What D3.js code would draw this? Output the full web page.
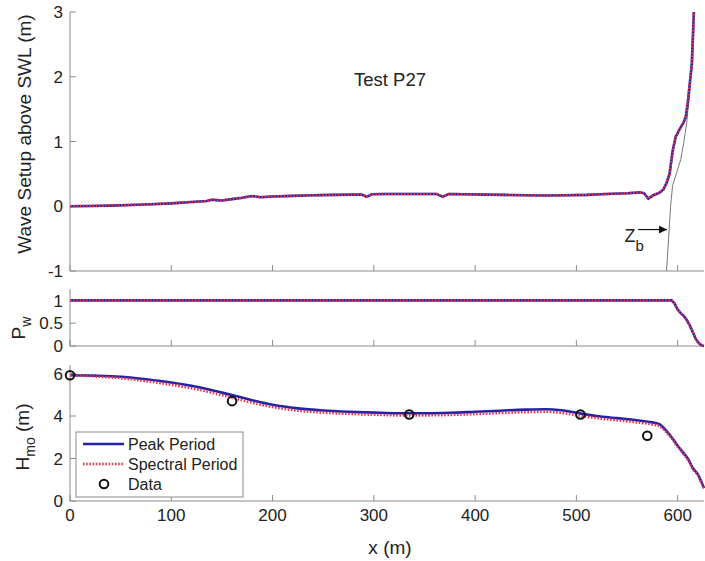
<!DOCTYPE html>
<html>
<head>
<meta charset="utf-8">
<script src="https://cdn.jsdelivr.net/npm/d3@7"></script>
<style>
  body { margin: 0; background: #fff; }
  svg { display: block; font-family: 'Liberation Sans', Arial, sans-serif; }
</style>
</head>
<body>
<svg id="chart" width="705" height="561"></svg>
<script>
// wave setup (top panel)
const setupX = [0, 20, 40, 60, 80, 100, 120, 135, 140, 145, 150, 160, 170, 178, 182, 188, 200, 220, 240, 260, 280, 288, 293, 298, 310, 330, 350, 362, 368, 374, 390, 410, 430, 450, 470, 490, 510, 530, 550, 563, 567, 571, 576, 582, 586, 589, 592, 595, 598, 602, 606, 608, 610, 612, 614, 615, 616];
const setupY = [0, 0.005, 0.01, 0.02, 0.03, 0.045, 0.065, 0.08, 0.1, 0.095, 0.09, 0.11, 0.13, 0.155, 0.155, 0.14, 0.15, 0.16, 0.17, 0.175, 0.18, 0.18, 0.145, 0.185, 0.19, 0.19, 0.19, 0.19, 0.145, 0.19, 0.185, 0.18, 0.175, 0.17, 0.165, 0.17, 0.175, 0.19, 0.2, 0.215, 0.2, 0.115, 0.17, 0.21, 0.26, 0.36, 0.5, 0.85, 1.07, 1.19, 1.3, 1.38, 1.6, 1.9, 2.2, 2.6, 3.0];
// thin profile line (Zb)
const zbX = [589, 591, 593, 595, 599, 603, 606, 609, 612, 614, 616];
const zbY = [-1, -0.5, 0, 0.32, 0.52, 0.72, 0.98, 1.3, 1.8, 2.3, 3.0];

// fraction of waves Pw
const pwX = [0, 594, 597, 600, 603, 606, 609, 612, 615, 618, 621, 624, 626];
const pwY = [1, 1, 0.93, 0.8, 0.72, 0.66, 0.57, 0.45, 0.3, 0.15, 0.06, 0.01, 0];

// Hmo
const hX = [0, 25, 50, 75, 100, 125, 150, 175, 200, 225, 250, 275, 300, 325, 350, 375, 400, 425, 450, 470, 485, 500, 520, 540, 560, 575, 582, 588, 594, 600, 605, 610, 615, 620, 623, 626];
const hPeak = [5.92, 5.9, 5.85, 5.73, 5.58, 5.38, 5.1, 4.8, 4.53, 4.36, 4.26, 4.2, 4.16, 4.13, 4.13, 4.15, 4.2, 4.25, 4.3, 4.32, 4.27, 4.15, 4.0, 3.9, 3.8, 3.7, 3.62, 3.35, 3.0, 2.6, 2.3, 2.0, 1.55, 1.25, 0.95, 0.6];
const hSpec = [5.92, 5.86, 5.78, 5.64, 5.47, 5.26, 4.98, 4.68, 4.42, 4.25, 4.16, 4.1, 4.06, 4.03, 4.03, 4.05, 4.09, 4.14, 4.18, 4.2, 4.15, 4.04, 3.9, 3.8, 3.7, 3.6, 3.52, 3.28, 2.95, 2.55, 2.25, 1.95, 1.5, 1.2, 0.9, 0.55];
const dataX = [0, 160, 335, 504, 570];
const dataH = [5.92, 4.7, 4.07, 4.07, 3.07];

const xTicks = [0, 100, 200, 300, 400, 500, 600];
const setupTicks = [-1, 0, 1, 2, 3];
const pwTicks = [0, 0.5, 1];
const hTicks = [0, 2, 4, 6];

const svg = d3.select('#chart');
const left = 70, right = 704;
const axisColor = '#8c8c8c';
const textColor = '#222';
const blue = '#2323a8';
const red = '#e8344a';

const x = d3.scaleLinear().domain([0, 626]).range([left, right]);
const ySetup = d3.scaleLinear().domain([-1, 3]).range([271, 12]);
const yPw = d3.scaleLinear().domain([0, 1.25]).range([346, 289]);
const yH = d3.scaleLinear().domain([0, 6.4]).range([501, 365]);

function drawAxes(y, yTicks, fmt, showXLabels) {
    const g = svg.append('g');
    const [y0, y1] = y.range();
    g.append('line').attr('x1', left).attr('x2', right).attr('y1', y0).attr('y2', y0)
        .attr('stroke', axisColor).attr('stroke-width', 1);
    g.append('line').attr('x1', left).attr('x2', left).attr('y1', y0).attr('y2', y1)
        .attr('stroke', axisColor).attr('stroke-width', 1);
    g.selectAll('.xt').data(xTicks).enter().append('line')
        .attr('x1', (d) => x(d)).attr('x2', (d) => x(d))
        .attr('y1', y0).attr('y2', y0 - 6)
        .attr('stroke', axisColor);
    g.selectAll('.yt').data(yTicks).enter().append('line')
        .attr('x1', left).attr('x2', left + 6)
        .attr('y1', (d) => y(d)).attr('y2', (d) => y(d))
        .attr('stroke', axisColor);
    g.selectAll('.yl').data(yTicks).enter().append('text')
        .attr('x', left - 7).attr('y', (d) => y(d))
        .attr('dy', '0.36em')
        .attr('text-anchor', 'end')
        .attr('font-size', 17)
        .attr('fill', textColor)
        .text(fmt);
    if (showXLabels) {
        g.selectAll('.xl').data(xTicks).enter().append('text')
            .attr('x', (d) => x(d)).attr('y', y0 + 20)
            .attr('text-anchor', 'middle')
            .attr('font-size', 17)
            .attr('fill', textColor)
            .text((d) => d);
    }
}

function pairLines(xs, ya, yb, y, curve) {
    const line = d3.line().x((d) => x(d[0])).y((d) => y(d[1])).curve(curve);
    const a = xs.map((v, i) => [v, ya[i]]);
    const b = xs.map((v, i) => [v, yb[i]]);
    svg.append('path').attr('d', line(a)).attr('fill', 'none')
        .attr('stroke', blue).attr('stroke-width', 2.6);
    svg.append('path').attr('d', line(b)).attr('fill', 'none')
        .attr('stroke', red).attr('stroke-width', 2.6)
        .attr('stroke-dasharray', '1.6,1.6');
}

drawAxes(ySetup, setupTicks, (d) => d, false);
drawAxes(yPw, pwTicks, (d) => d, false);
drawAxes(yH, hTicks, (d) => d, true);

// top panel
const zbLine = d3.line().x((d, i) => x(d)).y((d, i) => ySetup(zbY[i]));
svg.append('path').attr('d', zbLine(zbX)).attr('fill', 'none')
    .attr('stroke', '#777').attr('stroke-width', 1);
pairLines(setupX, setupY, setupY, ySetup, d3.curveLinear);

svg.append('text').attr('x', 390).attr('y', 86)
    .attr('text-anchor', 'middle').attr('font-size', 18.5).attr('fill', textColor)
    .text('Test P27');

// Zb annotation
svg.append('defs').append('marker')
    .attr('id', 'head').attr('viewBox', '0 0 10 10')
    .attr('refX', 10).attr('refY', 5)
    .attr('markerWidth', 8).attr('markerHeight', 8)
    .attr('markerUnits', 'userSpaceOnUse')
    .attr('orient', 'auto')
    .append('path').attr('d', 'M0,0 L10,5 L0,10 Z').attr('fill', '#111');
svg.append('line')
    .attr('x1', x(561)).attr('x2', x(589.5))
    .attr('y1', ySetup(-0.36)).attr('y2', ySetup(-0.36))
    .attr('stroke', '#111').attr('stroke-width', 1.2)
    .attr('marker-end', 'url(#head)');
const zt = svg.append('text').attr('x', x(547.5)).attr('y', ySetup(-0.55))
    .attr('font-size', 18).attr('fill', textColor);
zt.append('tspan').text('Z');
zt.append('tspan').attr('dy', 9).attr('font-size', 15).text('b');

// Pw panel
pairLines(pwX, pwY, pwY, yPw, d3.curveLinear);

// Hmo panel
pairLines(hX, hPeak, hSpec, yH, d3.curveMonotoneX);
svg.selectAll('.obs').data(dataX).enter().append('circle')
    .attr('cx', (d) => x(d)).attr('cy', (d, i) => yH(dataH[i]))
    .attr('r', 4.3).attr('fill', 'none')
    .attr('stroke', '#111').attr('stroke-width', 2);

// y labels
function yLabel(cx, cy, main, sub, rest) {
    const t = svg.append('text')
        .attr('transform', `translate(${cx},${cy}) rotate(-90)`)
        .attr('text-anchor', 'middle')
        .attr('font-size', 19).attr('fill', textColor);
    t.append('tspan').text(main);
    if (sub) t.append('tspan').attr('dy', 6).attr('font-size', 14).text(sub);
    if (rest) t.append('tspan').attr('dy', -6).text(rest);
}
yLabel(31, 134, 'Wave Setup above SWL (m)');
yLabel(25, 328, 'P', 'w');
yLabel(29, 437, 'H', 'mo', ' (m)');

svg.append('text').attr('x', 390).attr('y', 554)
    .attr('text-anchor', 'middle').attr('font-size', 19).attr('fill', textColor)
    .text('x (m)');

// legend
const lg = svg.append('g');
lg.append('rect').attr('x', 76).attr('y', 432).attr('width', 167).attr('height', 65)
    .attr('fill', '#fff').attr('stroke', axisColor).attr('stroke-width', 1);
const items = ['Peak Period', 'Spectral Period', 'Data'];
items.forEach((name, i) => {
    const yy = 444 + i * 20;
    if (i === 0) {
        lg.append('line').attr('x1', 83).attr('x2', 124).attr('y1', yy).attr('y2', yy)
            .attr('stroke', blue).attr('stroke-width', 2.6);
    } else if (i === 1) {
        lg.append('line').attr('x1', 83).attr('x2', 124).attr('y1', yy).attr('y2', yy)
            .attr('stroke', red).attr('stroke-width', 2.6).attr('stroke-dasharray', '1.6,1.6');
    } else {
        lg.append('circle').attr('cx', 104).attr('cy', yy).attr('r', 4.3)
            .attr('fill', 'none').attr('stroke', '#111').attr('stroke-width', 2);
    }
    lg.append('text').attr('x', 128).attr('y', yy).attr('dy', '0.36em')
        .attr('font-size', 16).attr('fill', textColor).text(name);
});
</script>
</body>
</html>
